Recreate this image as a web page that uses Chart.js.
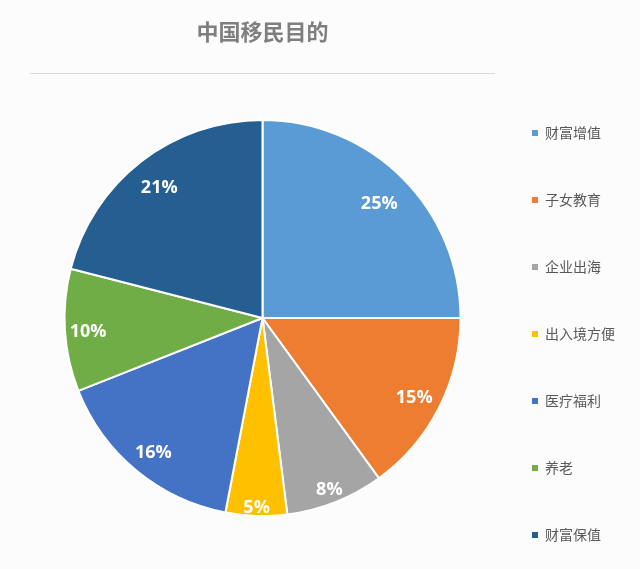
<!DOCTYPE html>
<html>
<head>
<meta charset="utf-8">
<script src="https://cdn.jsdelivr.net/npm/chart.js@4.4.0/dist/chart.umd.min.js"></script>
<style>
  html, body { margin: 0; padding: 0; background: #fcfcfd; }
  #wrap { width: 640px; height: 569px; }
</style>
</head>
<body>
<div id="wrap"><canvas id="c" width="640" height="569"></canvas></div>
<script>
const chartTitle = '中国移民目的';
const categories = ['财富增值', '子女教育', '企业出海', '出入境方便', '医疗福利', '养老', '财富保值'];
const shares = [25, 15, 8, 5, 16, 10, 21];
const sliceColors = ['#5B9BD5', '#ED7D31', '#A5A5A5', '#FFC000', '#4472C4', '#70AD47', '#255E91'];

const baseLegendLabels = Chart.overrides.doughnut.plugins.legend.labels.generateLabels;

const titleRule = {
  id: 'titleRule',
  afterDraw(chart) {
    const ctx = chart.ctx;
    ctx.save();
    ctx.strokeStyle = '#d9d9d9';
    ctx.lineWidth = 1;
    ctx.beginPath();
    ctx.moveTo(30, 73.5);
    ctx.lineTo(495, 73.5);
    ctx.stroke();
    ctx.restore();
  }
};

const sliceLabels = {
  id: 'sliceLabels',
  afterDatasetsDraw(chart) {
    const ctx = chart.ctx;
    const meta = chart.getDatasetMeta(0);
    const values = chart.data.datasets[0].data;
    ctx.save();
    ctx.font = 'bold 18px "Open Sans", "DejaVu Sans", sans-serif';
    ctx.fillStyle = '#ffffff';
    ctx.textAlign = 'center';
    ctx.textBaseline = 'middle';
    meta.data.forEach((arc, i) => {
      const p = arc.getProps(['x', 'y', 'startAngle', 'endAngle', 'outerRadius']);
      const mid = (p.startAngle + p.endAngle) / 2;
      const sweep = p.endAngle - p.startAngle;
      const text = values[i] + '%';
      const w = ctx.measureText(text).width;
      const h = 18;
      const c = Math.abs(Math.cos(mid)), s = Math.abs(Math.sin(mid));
      const lim = p.outerRadius - 6;
      const b = c * w / 2 + s * h / 2;
      const cc = (w * w + h * h) / 4 - lim * lim;
      // fit the label box inside the outer edge, pulled inward a bit more for wide slices
      const r = -b + Math.sqrt(b * b - cc) + 8 - 9.8 * sweep;
      ctx.fillText(text, p.x + r * Math.cos(mid), p.y + r * Math.sin(mid) + 3);
    });
    ctx.restore();
  }
};

new Chart(document.getElementById('c'), {
  type: 'pie',
  data: {
    labels: categories,
    datasets: [{
      data: shares,
      backgroundColor: sliceColors,
      borderColor: '#ffffff',
      borderWidth: 2
    }]
  },
  options: {
    responsive: false,
    animation: false,
    layout: { padding: { left: 46, right: 15, top: 0, bottom: -30 } },
    plugins: {
      title: {
        display: true,
        text: chartTitle,
        position: 'top',
        fullSize: false,
        color: '#7f7f7f',
        font: { family: '"Noto Sans CJK SC", sans-serif', size: 22, weight: 'bold' },
        padding: { top: 18.8, bottom: 73.8 }
      },
      subtitle: {
        display: true,
        text: '',
        position: 'bottom',
        fullSize: false,
        font: { size: 12 },
        padding: { top: 0, bottom: 67.6 }
      },
      legend: {
        display: true,
        position: 'right',
        align: 'center',
        title: { display: true, text: '', font: { size: 12 }, padding: { top: 0, bottom: 54.6 } },
        labels: {
          boxWidth: 6,
          boxHeight: 6,
          padding: 53,
          color: '#595959',
          font: { family: '"Noto Sans CJK SC", sans-serif', size: 14 },
          generateLabels(chart) {
            return baseLegendLabels(chart).map(l => Object.assign(l, { lineWidth: 0, strokeStyle: 'rgba(0,0,0,0)' }));
          }
        }
      },
      tooltip: { enabled: false }
    }
  },
  plugins: [titleRule, sliceLabels]
});
</script>
</body>
</html>
